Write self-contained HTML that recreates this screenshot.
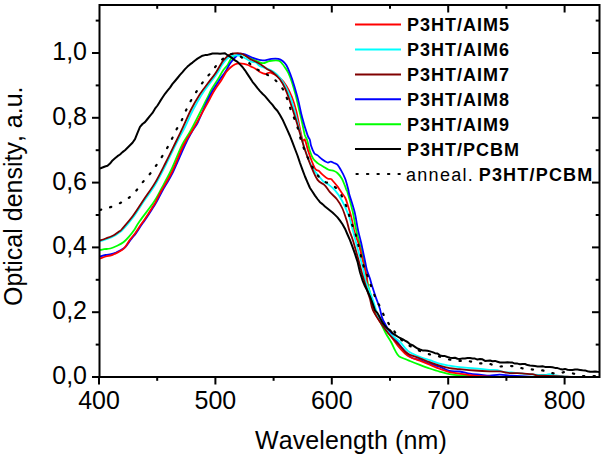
<!DOCTYPE html>
<html><head><meta charset="utf-8"><style>
html,body{margin:0;padding:0;background:#fff;}
body{width:606px;height:455px;position:relative;overflow:hidden;font-family:"Liberation Sans",sans-serif;color:#000;}
.yt{position:absolute;left:0;width:87px;text-align:right;font-size:25px;line-height:25px;letter-spacing:0px}
.xt{position:absolute;top:388px;width:120px;text-align:center;font-size:25px;line-height:25px;}
.lg{position:absolute;left:407px;font-size:18px;line-height:20px;white-space:nowrap;font-kerning:none;letter-spacing:1.0px}
.lg b{letter-spacing:1.2px;margin-left:-1.5px}
.lg span{letter-spacing:1.3px}
 body{font-kerning:none}
.b{font-weight:bold}
.xlab{position:absolute;left:255px;top:428.2px;font-size:25px;line-height:25px;letter-spacing:0.1px;white-space:nowrap}
.ylab{position:absolute;left:1px;top:306px;font-size:25px;line-height:25px;letter-spacing:0px;white-space:nowrap;transform:rotate(-90deg);transform-origin:0 0;}
</style></head><body>
<svg width="606" height="455" style="position:absolute;left:0;top:0">
<defs><clipPath id="c"><rect x="99.5" y="5.0" width="500.0" height="372.0"/></clipPath></defs>
<g clip-path="url(#c)"><path d="M100.0 250.2 C100.7 250.0 102.5 249.5 104.2 249.2 C105.9 248.9 108.1 249.1 110.3 248.5 C112.5 247.9 115.0 246.8 117.2 245.8 C119.4 244.8 121.5 243.8 123.4 242.3 C125.3 240.8 127.0 239.0 128.8 236.9 C130.6 234.8 132.4 232.6 134.2 230.0 C136.0 227.4 136.3 226.0 139.6 221.3 C142.9 216.6 150.3 207.3 154.0 201.8 C157.7 196.3 158.6 193.7 161.5 188.4 C164.4 183.1 167.8 177.2 171.2 170.0 C174.6 162.8 178.8 151.7 182.1 145.0 C185.4 138.3 187.0 137.5 191.0 130.0 C195.0 122.5 202.9 106.7 206.3 100.0 C209.7 93.3 209.3 93.3 211.2 90.0 C213.1 86.7 215.5 83.3 217.5 80.0 C219.5 76.7 221.8 72.4 223.4 70.0 C225.0 67.6 226.0 67.3 227.3 65.4 C228.6 63.5 229.8 60.4 231.0 58.8 C232.2 57.2 233.5 56.4 234.7 55.8 C235.9 55.1 237.1 55.2 238.3 54.9 C239.6 54.6 240.7 53.9 242.2 54.2 C243.7 54.5 245.6 55.8 247.5 56.8 C249.4 57.8 251.3 58.8 253.8 59.9 C256.3 61.0 260.0 63.0 262.6 63.2 C265.2 63.4 267.0 61.4 269.6 61.0 C272.2 60.6 276.3 60.2 278.4 60.6 C280.5 61.0 280.9 62.4 282.0 63.5 C283.1 64.7 284.0 66.0 285.0 67.5 C286.0 69.0 287.1 70.3 288.2 72.6 C289.3 74.9 290.7 78.5 291.7 81.4 C292.7 84.3 293.6 87.9 294.3 90.2 C295.0 92.5 295.1 92.5 295.7 95.0 C296.3 97.5 297.2 101.7 298.0 105.0 C298.8 108.3 299.6 111.7 300.4 115.0 C301.2 118.3 301.9 121.7 302.6 125.0 C303.3 128.3 304.1 132.5 304.8 135.0 C305.6 137.5 306.2 137.3 307.1 140.0 C308.0 142.7 308.9 147.9 309.9 151.0 C310.9 154.1 311.9 156.7 313.2 158.7 C314.5 160.7 316.0 161.8 317.6 163.1 C319.2 164.4 321.3 165.3 323.1 166.4 C324.9 167.5 326.8 168.9 328.6 169.7 C330.4 170.5 332.6 170.4 334.1 171.0 C335.6 171.6 336.1 171.8 337.4 173.0 C338.7 174.2 340.5 176.3 341.8 178.5 C343.1 180.7 344.3 184.3 345.1 186.2 C345.9 188.1 346.0 189.0 346.4 190.0 C346.8 191.0 346.4 188.6 347.5 192.2 C348.6 195.8 351.2 205.2 352.7 211.5 C354.1 217.8 355.0 224.4 356.2 230.0 C357.4 235.6 358.7 240.0 360.0 245.0 C361.3 250.0 362.7 255.0 363.8 260.0 C364.9 265.0 365.8 270.7 366.5 275.0 C367.2 279.3 367.5 282.2 368.3 286.0 C369.1 289.8 370.4 294.0 371.5 298.0 C372.6 302.0 373.7 306.4 375.0 310.0 C376.3 313.6 377.5 316.0 379.3 319.9 C381.1 323.8 383.9 329.8 385.9 333.5 C387.9 337.2 389.6 339.4 391.2 342.3 C392.8 345.2 394.2 348.8 395.5 351.1 C396.8 353.5 397.5 355.1 399.1 356.4 C400.7 357.7 403.4 358.2 405.2 359.0 C407.0 359.8 407.5 360.0 409.9 361.0 C412.3 362.0 416.5 363.6 419.8 364.8 C423.1 366.1 426.4 367.4 429.7 368.5 C433.0 369.6 436.3 370.7 439.6 371.6 C442.9 372.5 446.1 373.5 449.5 374.1 C452.9 374.7 455.4 375.0 459.7 375.3 C463.9 375.6 468.8 375.8 475.0 376.0 C481.2 376.2 490.8 376.4 497.0 376.6 C503.2 376.8 494.7 377.1 512.0 377.2 C529.3 377.3 586.2 377.4 601.0 377.5" fill="none" stroke="#00ff00" stroke-width="1.8" stroke-linejoin="round"/>
<path d="M100.0 256.6 C101.0 256.3 103.9 255.4 105.7 255.0 C107.5 254.6 109.4 254.6 111.1 254.2 C112.8 253.8 114.4 253.2 116.0 252.6 C117.6 251.9 118.9 251.3 120.5 250.3 C122.1 249.3 123.8 248.6 125.5 246.8 C127.2 245.1 128.9 242.1 130.7 239.8 C132.4 237.5 134.5 235.3 136.0 233.2 C137.5 231.1 138.5 229.4 139.9 227.3 C141.3 225.2 142.9 223.0 144.5 220.7 C146.1 218.4 147.3 216.7 149.3 213.5 C151.3 210.3 154.5 205.5 156.6 201.8 C158.7 198.1 159.3 196.5 162.0 191.5 C164.7 186.5 169.2 179.8 173.0 172.0 C176.8 164.2 181.7 152.0 185.0 145.0 C188.3 138.0 190.8 133.8 193.0 130.0 C195.2 126.2 195.6 127.0 198.0 122.0 C200.4 117.0 205.2 105.3 207.7 100.0 C210.2 94.7 211.0 93.3 213.0 90.0 C215.0 86.7 217.5 83.0 219.5 80.0 C221.5 77.0 223.5 74.7 225.2 72.0 C226.9 69.3 228.5 66.0 229.9 63.8 C231.3 61.6 232.5 60.4 233.6 59.1 C234.7 57.8 235.5 56.9 236.5 56.0 C237.5 55.1 238.2 54.1 239.6 53.8 C241.0 53.5 242.6 53.7 245.0 54.4 C247.4 55.1 250.9 57.2 253.8 58.2 C256.7 59.2 259.7 60.3 262.6 60.4 C265.5 60.5 268.8 59.1 271.4 58.8 C274.0 58.5 276.5 58.4 278.4 58.8 C280.3 59.2 281.3 59.9 282.6 61.0 C283.9 62.1 285.1 63.1 286.4 65.3 C287.7 67.5 289.0 70.6 290.3 74.0 C291.6 77.4 293.0 81.5 294.3 85.9 C295.6 90.3 297.0 95.1 298.3 100.4 C299.6 105.7 300.7 111.8 302.2 117.6 C303.7 123.4 306.2 131.4 307.5 135.1 C308.8 138.8 309.3 138.3 309.9 140.0 C310.5 141.7 310.3 143.3 311.0 145.5 C311.7 147.7 313.2 151.5 314.3 153.2 C315.4 154.8 316.3 154.4 317.6 155.4 C318.9 156.4 320.4 158.0 322.0 159.2 C323.6 160.4 326.0 162.1 327.5 162.5 C329.0 162.9 329.7 161.5 330.8 161.6 C331.9 161.7 332.9 162.5 334.0 163.0 C335.1 163.5 336.3 163.5 337.4 164.6 C338.5 165.7 339.4 167.4 340.7 169.7 C342.0 172.0 343.8 175.1 345.1 178.5 C346.4 181.9 347.7 187.4 348.4 190.0 C349.1 192.6 348.2 190.3 349.2 193.9 C350.2 197.5 353.0 205.5 354.5 211.5 C356.0 217.5 356.9 224.8 358.0 230.0 C359.1 235.2 360.1 238.0 361.2 243.0 C362.3 248.0 363.9 255.5 364.8 260.0 C365.8 264.5 366.0 266.9 366.9 270.0 C367.8 273.1 369.1 275.9 370.0 278.8 C370.9 281.7 371.6 284.4 372.6 287.6 C373.6 290.8 374.9 294.7 376.1 298.1 C377.3 301.5 378.5 304.2 379.6 307.8 C380.8 311.4 380.9 315.5 383.0 320.0 C385.1 324.5 387.5 328.9 392.0 335.0 C396.5 341.1 405.3 352.2 409.9 356.3 C414.5 360.4 416.5 358.6 419.8 359.8 C423.1 361.0 426.4 362.6 429.7 363.7 C433.0 364.8 436.3 365.5 439.6 366.7 C442.9 367.9 446.1 370.2 449.5 371.0 C452.9 371.8 456.3 371.1 459.7 371.5 C463.1 371.9 466.5 373.2 469.8 373.7 C473.1 374.2 476.4 374.4 479.7 374.7 C483.0 375.0 486.3 375.7 489.6 375.7 C492.9 375.7 495.8 374.7 499.5 374.7 C503.2 374.7 506.6 375.4 511.7 375.7 C516.8 376.0 524.5 376.4 530.0 376.6 C535.5 376.9 533.2 377.1 545.0 377.2 C556.8 377.3 591.7 377.4 601.0 377.5" fill="none" stroke="#0000ff" stroke-width="1.8" stroke-linejoin="round"/>
<path d="M100.0 258.4 C101.0 258.1 103.9 257.0 105.7 256.5 C107.5 256.0 109.6 255.8 111.1 255.4 C112.6 255.0 113.5 254.5 114.9 253.8 C116.3 253.2 118.0 252.4 119.5 251.5 C121.0 250.6 122.5 250.0 124.2 248.1 C125.9 246.2 128.1 242.3 129.9 239.8 C131.7 237.3 133.7 235.3 135.2 233.2 C136.7 231.1 137.7 229.4 139.1 227.3 C140.5 225.2 142.1 223.0 143.7 220.7 C145.3 218.4 147.1 215.6 148.5 213.5 C149.9 211.4 150.8 209.9 152.0 208.0 C153.2 206.1 154.3 204.6 155.8 201.8 C157.3 199.1 158.3 196.5 161.0 191.5 C163.7 186.5 168.2 179.8 172.0 172.0 C175.8 164.2 180.2 152.0 183.7 145.0 C187.1 138.0 190.5 133.8 192.7 130.0 C194.9 126.2 194.2 127.2 197.0 122.2 C199.8 117.2 206.2 105.4 209.2 100.0 C212.1 94.6 212.6 93.3 214.7 90.0 C216.8 86.7 219.6 83.0 221.5 80.0 C223.4 77.0 224.8 74.0 226.2 72.0 C227.6 70.0 228.4 69.3 229.9 68.0 C231.4 66.7 233.6 65.1 235.2 64.3 C236.8 63.5 237.9 63.4 239.4 63.3 C240.9 63.2 242.7 63.5 244.1 63.8 C245.5 64.1 246.7 64.5 248.0 65.0 C249.3 65.5 250.8 66.4 252.0 67.0 C253.2 67.6 254.1 67.9 255.4 68.7 C256.7 69.5 258.4 71.1 260.0 72.0 C261.6 72.9 263.5 73.9 265.3 74.0 C267.1 74.1 268.2 72.0 270.6 72.7 C273.0 73.4 277.2 75.8 279.8 78.0 C282.4 80.2 284.4 82.8 286.4 85.9 C288.4 89.0 290.1 92.5 291.7 96.5 C293.3 100.5 294.2 103.0 296.0 110.0 C297.8 117.0 300.7 133.7 302.2 138.7 C303.7 143.7 304.0 137.9 305.0 140.0 C306.0 142.1 307.0 147.3 308.2 151.0 C309.4 154.7 310.9 159.0 312.1 162.0 C313.3 165.0 314.3 167.6 315.4 169.1 C316.5 170.6 317.6 170.0 318.7 170.8 C319.8 171.6 320.5 172.8 322.0 174.1 C323.5 175.4 326.0 177.7 327.5 178.5 C329.0 179.3 330.0 178.8 330.8 179.0 C331.6 179.2 331.0 178.7 332.1 180.0 C333.2 181.3 336.0 184.4 337.6 186.6 C339.2 188.8 340.7 191.3 342.0 193.2 C343.3 195.1 344.4 196.2 345.3 198.0 C346.2 199.8 346.6 201.3 347.5 204.2 C348.4 207.1 349.7 210.9 350.8 215.2 C351.9 219.5 353.2 226.2 354.1 230.0 C355.1 233.8 355.7 235.5 356.5 238.0 C357.3 240.5 358.0 241.3 359.0 245.0 C360.0 248.7 361.4 255.0 362.6 260.0 C363.8 265.0 365.3 270.0 366.2 275.0 C367.1 280.0 367.4 286.2 368.2 290.2 C369.0 294.2 369.9 295.7 370.8 299.0 C371.7 302.3 372.1 306.4 373.5 310.0 C374.9 313.6 376.9 317.1 379.3 320.8 C381.7 324.5 385.0 328.0 388.1 332.2 C391.2 336.4 395.2 342.4 398.0 346.0 C400.8 349.6 403.0 351.7 405.0 353.5 C407.0 355.3 407.4 355.8 409.9 357.0 C412.4 358.2 416.5 359.4 419.8 360.7 C423.1 362.0 426.4 363.4 429.7 364.7 C433.0 366.0 436.3 367.5 439.6 368.7 C442.9 369.9 446.2 371.3 449.5 372.1 C452.8 372.9 455.2 373.0 459.4 373.6 C463.6 374.2 469.5 375.2 474.6 375.7 C479.7 376.2 484.9 376.4 490.0 376.6 C495.1 376.9 486.5 377.1 505.0 377.2 C523.5 377.3 585.0 377.4 601.0 377.5" fill="none" stroke="#ff0000" stroke-width="1.8" stroke-linejoin="round"/>
<path d="M100.0 241.1 C101.0 240.8 103.9 239.9 105.7 239.3 C107.5 238.7 109.5 238.0 111.1 237.4 C112.6 236.8 113.5 236.5 115.0 235.6 C116.5 234.7 118.7 233.0 120.0 232.0 C121.3 231.0 120.8 231.9 123.0 229.5 C125.2 227.1 129.5 222.2 133.0 217.5 C136.5 212.8 140.3 206.4 144.0 201.0 C147.7 195.6 151.3 191.1 155.0 185.0 C158.7 178.9 162.5 171.2 166.0 164.5 C169.5 157.8 172.6 150.8 175.8 144.5 C179.0 138.2 182.1 132.8 185.0 127.0 C187.9 121.2 190.2 115.3 193.0 110.0 C195.8 104.7 198.7 99.5 201.5 95.0 C204.3 90.5 207.2 86.8 210.0 83.0 C212.8 79.2 216.0 75.0 218.0 72.0 C220.0 69.0 220.4 67.2 222.0 64.9 C223.6 62.7 225.6 60.0 227.3 58.5 C229.1 57.0 230.9 56.4 232.5 55.9 C234.1 55.4 235.5 55.4 236.8 55.4 C238.1 55.4 238.9 55.4 240.4 55.9 C241.9 56.4 243.9 57.5 245.7 58.5 C247.5 59.5 249.3 61.0 251.0 61.7 C252.7 62.4 254.5 61.8 256.0 62.5 C257.5 63.2 257.6 64.8 260.0 66.1 C262.4 67.3 267.7 68.6 270.6 70.0 C273.5 71.4 275.0 72.5 277.2 74.7 C279.4 76.9 281.7 80.1 283.7 83.3 C285.7 86.5 287.4 90.2 289.0 93.8 C290.6 97.4 291.7 100.6 293.0 105.0 C294.3 109.4 295.5 114.2 297.0 120.0 C298.5 125.8 300.2 133.7 302.0 140.0 C303.8 146.3 306.2 153.3 308.0 158.0 C309.8 162.7 310.9 165.2 312.5 168.0 C314.1 170.8 315.9 172.5 317.6 174.6 C319.3 176.7 321.1 179.2 322.8 180.8 C324.6 182.4 326.1 182.7 328.1 184.3 C330.2 185.9 332.8 187.6 335.1 190.4 C337.5 193.2 339.9 196.6 342.2 201.0 C344.5 205.4 347.4 212.0 349.2 216.8 C350.9 221.6 351.2 224.5 352.7 230.0 C354.2 235.5 356.3 243.7 358.0 250.0 C359.7 256.3 361.8 262.9 363.0 268.0 C364.2 273.1 364.5 276.8 365.5 280.5 C366.5 284.2 367.9 287.1 369.1 290.2 C370.3 293.3 371.4 295.7 372.6 299.0 C373.8 302.3 375.0 306.8 376.1 310.0 C377.2 313.2 377.2 314.5 379.0 318.0 C380.8 321.5 383.5 327.0 387.0 331.0 C390.5 335.0 397.0 339.1 400.0 341.9 C403.0 344.7 403.4 346.2 405.0 347.9 C406.6 349.6 407.4 350.8 409.9 352.3 C412.4 353.8 416.5 355.5 419.8 356.8 C423.1 358.1 426.4 359.1 429.7 360.2 C433.0 361.3 436.3 362.8 439.6 363.7 C442.9 364.6 446.2 365.1 449.5 365.7 C452.8 366.3 455.2 366.8 459.4 367.2 C463.6 367.6 469.6 367.9 474.6 368.3 C479.6 368.7 485.6 369.5 489.4 369.8 C493.2 370.1 495.0 369.8 497.5 370.2 C500.0 370.6 502.2 371.8 504.5 372.2 C506.8 372.6 508.4 372.2 511.5 372.5 C514.6 372.8 518.7 373.3 523.1 373.7 C527.5 374.1 534.2 374.6 538.1 374.8 C542.0 375.0 544.3 374.9 546.2 374.8 C548.1 374.7 548.1 374.1 549.7 374.2 C551.3 374.3 553.5 375.1 556.0 375.5 C558.5 375.9 561.3 376.3 565.0 376.6 C568.7 376.9 572.0 377.2 578.0 377.3 C584.0 377.4 597.2 377.5 601.0 377.5" fill="none" stroke="#00ffff" stroke-width="1.8" stroke-linejoin="round"/>
<path d="M100.0 240.4 C101.0 240.1 103.9 239.2 105.7 238.5 C107.5 237.8 109.6 237.2 111.1 236.5 C112.6 235.8 113.5 235.5 114.9 234.6 C116.3 233.7 118.3 232.1 119.5 231.2 C120.7 230.3 119.8 231.6 122.0 229.0 C124.2 226.4 129.3 220.8 133.0 215.8 C136.7 210.9 140.3 204.8 144.0 199.3 C147.7 193.8 151.3 189.1 155.0 182.9 C158.7 176.7 162.5 168.8 166.0 162.0 C169.5 155.2 172.9 147.9 175.8 142.0 C178.7 136.1 180.6 132.1 183.2 126.7 C185.8 121.3 188.3 114.9 191.1 109.5 C193.8 104.1 196.9 98.9 199.7 94.5 C202.5 90.1 205.2 86.9 207.9 83.3 C210.6 79.7 213.5 76.2 215.8 72.7 C218.2 69.2 220.5 64.5 222.0 62.2 C223.5 59.9 223.7 60.1 224.6 59.1 C225.5 58.1 226.4 57.1 227.3 56.4 C228.2 55.6 228.9 55.1 229.9 54.6 C230.9 54.1 232.3 53.7 233.6 53.5 C234.9 53.3 236.6 53.2 237.8 53.2 C239.0 53.2 239.9 53.2 241.0 53.5 C242.1 53.8 243.0 54.3 244.1 54.9 C245.2 55.5 246.2 56.2 247.3 57.0 C248.5 57.8 249.7 58.9 251.0 59.6 C252.3 60.4 253.9 60.8 255.4 61.5 C256.9 62.2 258.1 62.8 260.0 64.0 C261.9 65.2 264.4 67.2 266.6 68.7 C268.8 70.2 271.0 70.9 273.2 72.7 C275.4 74.5 277.8 76.7 279.8 79.3 C281.8 81.9 283.6 85.3 285.1 88.5 C286.6 91.7 287.2 93.2 289.0 98.5 C290.8 103.8 293.5 111.9 296.0 120.0 C298.5 128.1 301.6 139.5 304.0 147.0 C306.4 154.5 308.2 159.5 310.5 165.0 C312.8 170.5 315.2 176.6 317.6 179.9 C320.0 183.2 322.6 183.1 324.6 185.1 C326.7 187.1 327.8 189.8 329.9 192.2 C331.9 194.5 334.8 196.6 336.9 199.2 C338.9 201.8 340.6 204.5 342.2 208.0 C343.8 211.5 345.4 216.6 346.6 220.3 C347.8 224.0 348.2 226.7 349.2 230.0 C350.2 233.3 351.2 235.0 352.8 240.0 C354.4 245.0 356.9 254.2 358.5 260.0 C360.1 265.8 361.1 270.0 362.5 275.0 C363.9 280.0 365.8 286.0 367.0 290.0 C368.2 294.0 369.0 295.7 370.0 299.0 C371.0 302.3 371.2 306.4 372.8 310.0 C374.4 313.6 376.8 317.0 379.3 320.8 C381.8 324.6 384.6 328.8 388.0 333.0 C391.4 337.2 397.2 342.8 400.0 345.9 C402.8 349.0 403.4 350.0 405.0 351.5 C406.6 353.0 407.4 353.7 409.9 354.8 C412.4 355.9 416.5 357.1 419.8 358.3 C423.1 359.5 426.4 361.0 429.7 362.2 C433.0 363.4 436.3 364.7 439.6 365.7 C442.9 366.7 446.2 367.6 449.5 368.2 C452.8 368.8 455.2 368.8 459.4 369.2 C463.6 369.6 469.6 370.1 474.6 370.5 C479.6 370.9 485.2 371.2 489.4 371.3 C493.6 371.4 497.3 371.2 500.0 371.4 C502.7 371.6 504.0 372.2 505.8 372.5 C507.6 372.8 509.1 373.1 511.0 373.2 C512.9 373.3 515.1 373.0 517.3 373.1 C519.5 373.2 521.5 373.4 524.0 373.6 C526.5 373.8 529.9 373.9 532.3 374.2 C534.6 374.5 535.5 375.3 538.1 375.6 C540.7 375.9 544.0 375.7 548.0 375.8 C552.0 375.9 557.9 376.1 562.4 376.3 C566.9 376.5 568.6 377.0 575.0 377.2 C581.4 377.4 596.7 377.4 601.0 377.5" fill="none" stroke="#800000" stroke-width="1.8" stroke-linejoin="round"/>
<path d="M100.0 168.5 L102.5 167.5 L105.0 166.5 L107.5 165.8 L110.0 163.6 L112.5 160.4 L115.0 158.3 L117.5 156.2 L120.0 154.5 L122.5 152.1 L125.0 150.2 L127.5 147.8 L130.0 145.3 L132.5 142.7 L135.0 139.1 L137.5 132.8 L140.0 126.9 L142.5 124.0 L145.0 122.1 L147.5 119.0 L150.0 115.8 L152.5 112.9 L155.0 108.7 L157.5 105.5 L160.0 101.4 L162.5 97.5 L165.0 93.8 L167.5 90.6 L170.0 87.6 L172.5 83.9 L175.0 81.0 L177.5 78.0 L180.0 74.9 L182.5 72.1 L185.0 69.1 L187.5 66.6 L190.0 64.4 L192.5 62.6 L195.0 60.5 L197.5 58.6 L200.0 57.1 L202.5 55.7 L205.0 55.1 L207.5 54.9 L210.0 54.2 L212.5 53.5 L215.0 53.6 L217.5 53.6 L220.0 53.8 L222.5 53.5 L225.0 53.3 L227.5 55.2 L230.0 56.5 L232.5 58.4 L235.0 60.4 L237.5 61.9 L240.0 64.4 L242.5 67.0 L245.0 70.3 L247.5 74.1 L250.0 77.9 L252.5 81.8 L255.0 84.8 L257.5 88.2 L260.0 91.1 L262.5 93.7 L265.0 96.1 L267.5 99.1 L270.0 102.1 L272.5 104.9 L275.0 108.3 L277.5 111.0 L280.0 115.0 L282.5 119.4 L285.0 124.9 L287.5 130.4 L290.0 136.0 L292.5 142.4 L295.0 149.0 L297.5 155.5 L300.0 163.0 L302.5 169.8 L305.0 176.5 L307.5 182.4 L310.0 188.0 L312.5 191.8 L315.0 195.6 L317.5 199.0 L320.0 202.2 L322.5 204.1 L325.0 206.5 L327.5 208.5 L330.0 210.5 L332.5 212.5 L335.0 214.9 L337.5 217.4 L340.0 220.6 L342.5 224.2 L345.0 228.7 L347.5 234.5 L350.0 240.2 L352.5 246.8 L355.0 253.9 L357.5 261.6 L360.0 272.2 L362.5 280.3 L365.0 286.3 L367.5 291.1 L370.0 296.7 L372.5 303.1 L375.0 310.4 L377.5 313.1 L380.0 317.8 L382.5 322.6 L385.0 326.0 L387.5 328.6 L390.0 330.1 L392.5 333.2 L395.0 334.8 L397.5 336.5 L400.0 338.0 L402.5 339.1 L405.0 340.7 L407.5 342.0 L410.0 344.3 L412.5 345.2 L415.0 346.8 L417.5 348.5 L420.0 349.5 L422.5 350.4 L425.0 350.5 L427.5 350.7 L430.0 351.4 L432.5 352.1 L435.0 353.2 L437.5 353.5 L440.0 355.4 L442.5 355.9 L445.0 356.1 L447.5 357.0 L450.0 357.7 L452.5 358.0 L455.0 357.7 L457.5 358.7 L460.0 359.0 L462.5 358.4 L465.0 358.4 L467.5 358.0 L470.0 358.1 L472.5 358.5 L475.0 358.6 L477.5 359.6 L480.0 359.1 L482.5 359.3 L485.0 360.9 L487.5 360.7 L490.0 360.5 L492.5 361.3 L495.0 360.9 L497.5 361.7 L500.0 362.5 L502.5 362.6 L505.0 362.6 L507.5 362.3 L510.0 362.6 L512.5 362.6 L515.0 363.6 L517.5 363.6 L520.0 364.2 L522.5 363.9 L525.0 364.0 L527.5 365.1 L530.0 365.6 L532.5 365.8 L535.0 366.1 L537.5 366.4 L540.0 366.6 L542.5 366.2 L545.0 366.9 L547.5 367.0 L550.0 366.9 L552.5 367.2 L555.0 367.9 L557.5 368.1 L560.0 368.9 L562.5 369.4 L565.0 368.9 L567.5 369.7 L570.0 370.0 L572.5 370.1 L575.0 369.6 L577.5 369.6 L580.0 369.9 L582.5 370.2 L585.0 370.4 L587.5 371.2 L590.0 371.8 L592.5 371.8 L595.0 371.4 L597.5 371.7 L600.0 371.9" fill="none" stroke="#000" stroke-width="2" stroke-linejoin="round"/>
<path d="M100.0 209.9 C101.5 209.5 105.7 208.7 108.8 207.7 C111.9 206.7 115.6 205.2 118.7 203.7 C121.8 202.2 124.6 201.1 127.5 198.9 C130.4 196.7 133.6 193.5 136.3 190.5 C139.1 187.5 141.4 183.8 144.0 180.7 C146.6 177.6 149.2 174.9 151.6 171.9 C154.0 168.9 156.0 165.7 158.2 162.4 C160.4 159.1 162.8 155.5 164.8 152.1 C166.8 148.7 168.5 145.7 170.3 142.2 C172.1 138.7 173.7 134.8 175.5 131.3 C177.3 127.8 179.5 124.8 181.2 121.4 C182.9 118.0 184.2 114.3 185.8 110.8 C187.5 107.3 189.1 103.8 191.1 100.3 C193.1 96.8 195.6 92.9 197.8 89.5 C200.1 86.1 202.2 83.0 204.6 80.0 C206.9 77.0 209.5 74.4 211.9 71.4 C214.3 68.4 216.4 64.9 219.1 62.2 C221.8 59.6 225.2 56.9 228.0 55.5 C230.8 54.1 232.9 53.1 236.0 54.0 C239.1 54.9 243.2 58.6 246.5 61.0 C249.8 63.4 252.8 66.4 256.0 68.6 C259.2 70.8 262.9 72.2 266.0 74.0 C269.1 75.8 272.0 77.2 274.7 79.6 C277.4 82.0 280.3 85.2 282.4 88.4 C284.4 91.6 285.6 95.1 287.0 98.5 C288.4 101.9 289.2 105.4 290.5 109.0 C291.8 112.6 293.6 116.6 295.0 120.3 C296.4 124.0 297.6 127.5 298.6 131.0 C299.7 134.5 300.1 137.7 301.3 141.3 C302.5 144.9 304.2 149.2 305.7 152.7 C307.2 156.2 308.5 159.2 310.1 162.4 C311.7 165.6 313.3 168.9 315.4 172.0 C317.5 175.1 320.1 178.8 322.8 180.8 C325.5 182.9 328.8 182.4 331.6 184.3 C334.4 186.2 337.3 189.1 339.5 192.2 C341.7 195.3 343.3 199.3 344.8 202.7 C346.3 206.1 347.3 209.2 348.3 212.4 C349.3 215.6 349.8 218.4 351.0 222.0 C352.2 225.6 353.4 226.6 355.5 233.8 C357.6 241.0 361.4 258.3 363.4 265.4 C365.4 272.5 366.4 272.6 367.7 276.2 C369.0 279.8 370.0 283.0 371.3 286.7 C372.6 290.4 374.2 294.6 375.7 298.1 C377.2 301.6 378.8 304.2 380.5 307.8 C382.2 311.4 383.9 315.9 386.0 319.5 C388.1 323.1 390.6 326.2 393.0 329.5 C395.4 332.8 397.7 336.2 400.5 339.0 C403.3 341.8 406.8 344.0 410.0 346.0 C413.2 348.0 416.7 349.6 420.0 351.0 C423.3 352.4 426.9 353.6 430.0 354.5 C433.1 355.4 435.8 355.6 438.9 356.4 C442.0 357.2 445.2 358.6 448.6 359.4 C452.0 360.1 455.8 360.6 459.0 360.9 C462.2 361.1 464.8 360.5 467.9 360.9 C471.0 361.3 474.3 363.0 477.5 363.4 C480.7 363.8 484.0 362.6 487.2 363.1 C490.4 363.6 493.7 365.9 496.9 366.4 C500.1 366.9 503.4 366.1 506.5 366.1 C509.6 366.1 512.4 365.9 515.4 366.4 C518.4 366.8 521.2 368.3 524.3 368.8 C527.4 369.3 530.8 369.3 533.8 369.6 C536.8 369.9 539.7 369.9 542.5 370.4 C545.3 370.9 547.8 372.3 550.4 372.8 C553.0 373.3 555.8 373.7 558.3 373.6 C560.8 373.5 563.0 372.0 565.5 372.0 C568.0 372.0 570.6 372.9 573.4 373.6 C576.2 374.3 578.9 375.6 582.1 376.0 C585.3 376.4 589.2 376.0 592.4 376.0 C595.5 376.0 599.6 376.0 601.0 376.0" fill="none" stroke="#000" stroke-width="2.2" stroke-dasharray="1.3 9.2" stroke-linecap="round" stroke-linejoin="round"/></g>
<line x1="92.0" y1="377.0" x2="99.5" y2="377.0" stroke="#000" stroke-width="2"/>
<line x1="95.7" y1="344.6" x2="99.5" y2="344.6" stroke="#000" stroke-width="2"/>
<line x1="599.5" y1="344.6" x2="595.7" y2="344.6" stroke="#000" stroke-width="2"/>
<line x1="92.0" y1="312.2" x2="99.5" y2="312.2" stroke="#000" stroke-width="2"/>
<line x1="599.5" y1="312.2" x2="592.0" y2="312.2" stroke="#000" stroke-width="2"/>
<line x1="95.7" y1="279.8" x2="99.5" y2="279.8" stroke="#000" stroke-width="2"/>
<line x1="599.5" y1="279.8" x2="595.7" y2="279.8" stroke="#000" stroke-width="2"/>
<line x1="92.0" y1="247.4" x2="99.5" y2="247.4" stroke="#000" stroke-width="2"/>
<line x1="599.5" y1="247.4" x2="592.0" y2="247.4" stroke="#000" stroke-width="2"/>
<line x1="95.7" y1="215.0" x2="99.5" y2="215.0" stroke="#000" stroke-width="2"/>
<line x1="599.5" y1="215.0" x2="595.7" y2="215.0" stroke="#000" stroke-width="2"/>
<line x1="92.0" y1="182.6" x2="99.5" y2="182.6" stroke="#000" stroke-width="2"/>
<line x1="599.5" y1="182.6" x2="592.0" y2="182.6" stroke="#000" stroke-width="2"/>
<line x1="95.7" y1="150.2" x2="99.5" y2="150.2" stroke="#000" stroke-width="2"/>
<line x1="599.5" y1="150.2" x2="595.7" y2="150.2" stroke="#000" stroke-width="2"/>
<line x1="92.0" y1="117.8" x2="99.5" y2="117.8" stroke="#000" stroke-width="2"/>
<line x1="599.5" y1="117.8" x2="592.0" y2="117.8" stroke="#000" stroke-width="2"/>
<line x1="95.7" y1="85.4" x2="99.5" y2="85.4" stroke="#000" stroke-width="2"/>
<line x1="599.5" y1="85.4" x2="595.7" y2="85.4" stroke="#000" stroke-width="2"/>
<line x1="92.0" y1="53.0" x2="99.5" y2="53.0" stroke="#000" stroke-width="2"/>
<line x1="599.5" y1="53.0" x2="592.0" y2="53.0" stroke="#000" stroke-width="2"/>
<line x1="95.7" y1="20.6" x2="99.5" y2="20.6" stroke="#000" stroke-width="2"/>
<line x1="599.5" y1="20.6" x2="595.7" y2="20.6" stroke="#000" stroke-width="2"/>
<line x1="99.0" y1="377.0" x2="99.0" y2="384.5" stroke="#000" stroke-width="2"/>
<line x1="157.2" y1="377.0" x2="157.2" y2="380.8" stroke="#000" stroke-width="2"/>
<line x1="157.2" y1="5.0" x2="157.2" y2="8.8" stroke="#000" stroke-width="2"/>
<line x1="215.4" y1="377.0" x2="215.4" y2="384.5" stroke="#000" stroke-width="2"/>
<line x1="215.4" y1="5.0" x2="215.4" y2="12.5" stroke="#000" stroke-width="2"/>
<line x1="273.6" y1="377.0" x2="273.6" y2="380.8" stroke="#000" stroke-width="2"/>
<line x1="273.6" y1="5.0" x2="273.6" y2="8.8" stroke="#000" stroke-width="2"/>
<line x1="331.8" y1="377.0" x2="331.8" y2="384.5" stroke="#000" stroke-width="2"/>
<line x1="331.8" y1="5.0" x2="331.8" y2="12.5" stroke="#000" stroke-width="2"/>
<line x1="390.0" y1="377.0" x2="390.0" y2="380.8" stroke="#000" stroke-width="2"/>
<line x1="390.0" y1="5.0" x2="390.0" y2="8.8" stroke="#000" stroke-width="2"/>
<line x1="448.2" y1="377.0" x2="448.2" y2="384.5" stroke="#000" stroke-width="2"/>
<line x1="448.2" y1="5.0" x2="448.2" y2="12.5" stroke="#000" stroke-width="2"/>
<line x1="506.4" y1="377.0" x2="506.4" y2="380.8" stroke="#000" stroke-width="2"/>
<line x1="506.4" y1="5.0" x2="506.4" y2="8.8" stroke="#000" stroke-width="2"/>
<line x1="564.6" y1="377.0" x2="564.6" y2="384.5" stroke="#000" stroke-width="2"/>
<line x1="564.6" y1="5.0" x2="564.6" y2="12.5" stroke="#000" stroke-width="2"/>
<rect x="99.5" y="5.0" width="500.0" height="372.0" fill="none" stroke="#000" stroke-width="2"/>
<line x1="355" y1="24.6" x2="401" y2="24.6" stroke="#ff0000" stroke-width="2"/>
<line x1="355" y1="49.5" x2="401" y2="49.5" stroke="#00ffff" stroke-width="2"/>
<line x1="355" y1="74.4" x2="401" y2="74.4" stroke="#800000" stroke-width="2"/>
<line x1="355" y1="99.3" x2="401" y2="99.3" stroke="#0000ff" stroke-width="2"/>
<line x1="355" y1="124.2" x2="401" y2="124.2" stroke="#00ff00" stroke-width="2"/>
<line x1="355" y1="149.1" x2="401" y2="149.1" stroke="#000" stroke-width="2"/>
<line x1="356.5" y1="174.0" x2="401" y2="174.0" stroke="#000" stroke-width="2.2" stroke-dasharray="1.3 9.2" stroke-linecap="round"/></svg>
<div class="yt" style="top:363.0px">0,0</div>
<div class="yt" style="top:298.2px">0,2</div>
<div class="yt" style="top:233.4px">0,4</div>
<div class="yt" style="top:168.6px">0,6</div>
<div class="yt" style="top:103.8px">0,8</div>
<div class="yt" style="top:39.0px">1,0</div>
<div class="xt" style="left:39.0px">400</div>
<div class="xt" style="left:155.4px">500</div>
<div class="xt" style="left:271.8px">600</div>
<div class="xt" style="left:388.2px">700</div>
<div class="xt" style="left:504.6px">800</div>
<div class="lg b" style="top:15.1px">P3HT/AIM5</div>
<div class="lg b" style="top:40.0px">P3HT/AIM6</div>
<div class="lg b" style="top:64.9px">P3HT/AIM7</div>
<div class="lg b" style="top:89.8px">P3HT/AIM8</div>
<div class="lg b" style="top:114.7px">P3HT/AIM9</div>
<div class="lg b" style="top:139.6px">P3HT/PCBM</div>
<div class="lg" style="left:406px;top:164.5px"><span>anneal.</span> <b>P3HT/PCBM</b></div>
<div class="xlab">Wavelength (nm)</div>
<div class="ylab">Optical density, a.u.</div>
</body></html>
